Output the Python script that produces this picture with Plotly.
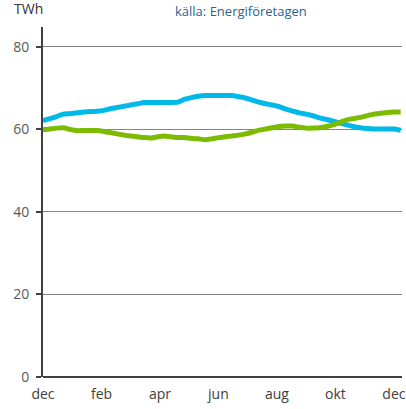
import plotly.graph_objects as go

weeks = list(range(54))
blue_values = [62.1, 62.6, 63.1, 63.7, 63.8, 64.0, 64.2, 64.3, 64.4, 64.6,
               65.0, 65.3, 65.6, 65.9, 66.2, 66.5, 66.5, 66.5, 66.5, 66.5,
               66.6, 67.3, 67.7, 68.0, 68.2, 68.2, 68.2, 68.2, 68.2, 67.9,
               67.6, 67.1, 66.6, 66.2, 65.9, 65.5, 64.9, 64.4, 64.0, 63.7,
               63.3, 62.8, 62.4, 62.0, 61.5, 61.1, 60.7, 60.4, 60.2, 60.1,
               60.1, 60.1, 60.1, 59.8]
green_values = [59.9, 60.1, 60.3, 60.4, 60.0, 59.7, 59.7, 59.7, 59.7, 59.5,
                59.2, 58.9, 58.6, 58.4, 58.2, 58.0, 57.9, 58.2, 58.4, 58.2,
                58.0, 58.0, 57.8, 57.7, 57.5, 57.7, 58.0, 58.2, 58.4, 58.6,
                58.9, 59.3, 59.8, 60.1, 60.4, 60.7, 60.8, 60.8, 60.5, 60.3,
                60.3, 60.4, 60.7, 61.1, 61.7, 62.3, 62.6, 62.9, 63.3, 63.7,
                63.9, 64.1, 64.2, 64.2]
tick_labels = ["dec", "feb", "apr", "jun", "aug", "okt", "dec"]
tick_weeks = [i * 52 / 6 for i in range(7)]
y_ticks = [0, 20, 40, 60, 80]

FONT = "'Open Sans', Lato, sans-serif"

fig = go.Figure()
fig.add_trace(go.Scatter(x=weeks, y=blue_values, mode="lines",
                         line=dict(color="#00B9E8", width=5, shape="spline", smoothing=0.4),
                         showlegend=False, hoverinfo="skip"))
fig.add_trace(go.Scatter(x=weeks, y=green_values, mode="lines",
                         line=dict(color="#7DBB00", width=5, shape="spline", smoothing=0.4),
                         showlegend=False, hoverinfo="skip"))

plot_w = 406 - 43 - 4
plot_h = 409 - 27 - 32

fig.update_layout(
    width=406, height=409,
    margin=dict(l=43, r=4, t=27, b=32, autoexpand=False),
    paper_bgcolor="white", plot_bgcolor="white",
    font=dict(family=FONT, size=14, color="#595959"),
    xaxis=dict(range=[0, 53.2], tickmode="array", tickvals=tick_weeks,
               ticktext=tick_labels, showgrid=False, zeroline=False,
               showline=False, ticks="", fixedrange=True, automargin=False,
               ticklabelstandoff=7,
               tickfont=dict(size=14, color="#404040")),
    yaxis=dict(range=[0, 84.8], tickmode="array", tickvals=y_ticks,
               showgrid=True, gridcolor="#858585", gridwidth=1,
               zeroline=True, zerolinecolor="#404040", zerolinewidth=2,
               showline=True, linecolor="#404040", linewidth=2,
               ticks="outside", ticklen=5, tickwidth=2, tickcolor="#404040",
               fixedrange=True, automargin=False, ticklabelstandoff=4,
               tickfont=dict(size=14, color="#595959")),
    annotations=[
        dict(text="TWh", xref="paper", yref="paper",
             x=(28 - 43) / plot_w, y=(377 - 8) / plot_h,
             xanchor="center", yanchor="middle", showarrow=False,
             font=dict(size=14, color="#333333")),
        dict(text="källa: Energiföretagen", xref="paper", yref="paper",
             x=(241 - 43) / plot_w, y=(377 - 11) / plot_h,
             xanchor="center", yanchor="middle", showarrow=False,
             font=dict(size=13, color="#2F5F8F")),
    ],
)

fig.write_html("out.html", config={"displayModeBar": False},
               post_script="document.body.style.margin='0';document.body.style.overflow='hidden';")
